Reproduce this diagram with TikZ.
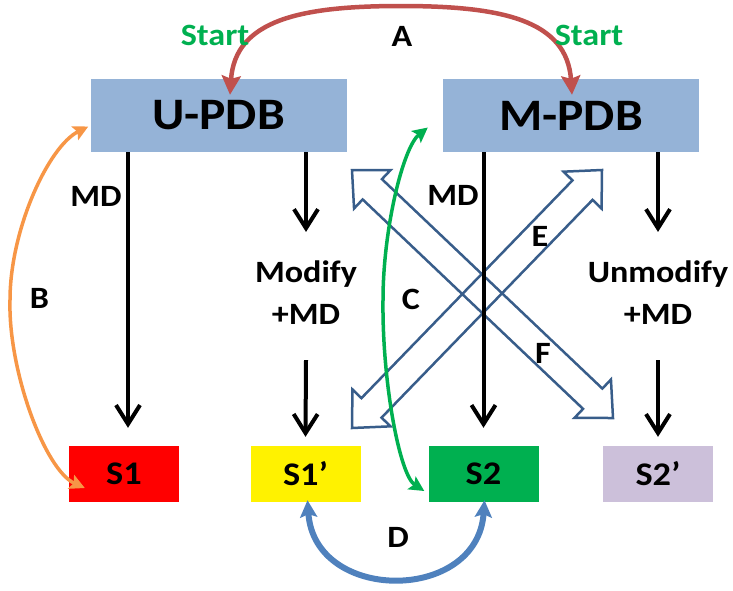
\documentclass[tikz,border=0pt]{standalone}
\usepackage{fontspec}
\setmainfont{Carlito}[FakeStretch=1.1]
\usetikzlibrary{arrows.meta,calc}

\definecolor{pdbblue}{HTML}{95B3D7}
\definecolor{redarc}{HTML}{C0504D}
\definecolor{orangearc}{HTML}{F79646}
\definecolor{greenarc}{HTML}{00B050}
\definecolor{bluearc}{HTML}{4F81BD}
\definecolor{hollowblue}{HTML}{385D8A}
\definecolor{lilac}{HTML}{CCC0DA}

\tikzset{
  pdb/.style={fill=pdbblue, minimum width=256pt, minimum height=73pt, inner sep=0pt,
    font=\bfseries\fontsize{45}{48}\selectfont},
  sbox/.style={minimum width=110pt, minimum height=56pt, inner sep=0pt,
    font=\bfseries\fontsize{33}{36}\selectfont},
  lbl/.style={inner sep=0pt, font=\bfseries\fontsize{31}{34}\selectfont},
  step lbl/.style={inner sep=0pt, align=center, font=\bfseries\fontsize{31}{42}\selectfont},
  flow/.style={line width=4pt, -{Straight Barb[length=19pt,width=24pt]}},
  hollow/.style={draw=hollowblue, line width=2.5pt},
  twoway/.style={arrows={Stealth[length=#1,width=#1,inset=3pt]-Stealth[length=#1,width=#1,inset=3pt]}},
}

% hollow double arrow between two tips
\def\headlen{28pt}
\def\headw{26.5pt}
\def\shaftw{14pt}
\newcommand\dblarrow[2]{%
  \draw[hollow] (#1)
    -- ($(#1)!\headlen!(#2)!\headw!90:(#2)$)
    -- ($(#1)!\headlen!(#2)!\shaftw!90:(#2)$)
    -- ($(#2)!\headlen!(#1)!\shaftw!-90:(#1)$)
    -- ($(#2)!\headlen!(#1)!\headw!-90:(#1)$)
    -- (#2)
    -- ($(#2)!\headlen!(#1)!\headw!90:(#1)$)
    -- ($(#2)!\headlen!(#1)!\shaftw!90:(#1)$)
    -- ($(#1)!\headlen!(#2)!\shaftw!-90:(#2)$)
    -- ($(#1)!\headlen!(#2)!\headw!-90:(#2)$)
    -- cycle;}

\begin{document}
\begin{tikzpicture}[x=1pt, y=-1pt]
    \useasboundingbox (0,0) rectangle (733,590);

    % Boxes
    \node[pdb] (upd) at (218.5,115.5) {U-PDB};
    \node[pdb] (mpd) at (571,115.5) {M-PDB};
    \node[sbox, fill=red] (s1) at (124,474) {S1};
    \node[sbox, fill=yellow] (s1p) at (305.5,474) {S1’};
    \node[sbox, fill=greenarc] (s2) at (483.5,474) {S2};
    \node[sbox, fill=lilac] (s2p) at (658,474) {S2’};

    % Modify steps
    \node[step lbl] (mod) at (306,293) {Modify\\+MD};
    \node[step lbl] (umod) at (658,293) {Unmodify\\+MD};

    % Crossing arrows E and F
    \coordinate (e1) at (352,428);
    \coordinate (e2) at (602,170);
    \coordinate (f1) at (352,170);
    \coordinate (f2) at (613,418);
    \dblarrow{e1}{e2}
    \dblarrow{f1}{f2}

    % MD runs
    \draw[flow] ([xshift=4pt]s1.north |- upd.south) -- ([xshift=4pt,yshift=18pt]s1.north);
    \draw[flow] (mod.north |- upd.south) -- ([yshift=29pt]mod.north);
    \draw[flow] ([yshift=-35pt]mod.south) -- ([yshift=9pt]s1p.north);
    \draw[flow] (s2.north |- mpd.south) -- ([yshift=18pt]s2.north);
    \draw[flow] (umod.north |- mpd.south) -- ([yshift=29pt]umod.north);
    \draw[flow] ([yshift=-35pt]umod.south) -- ([yshift=9pt]s2p.north);

    % Comparisons
    \coordinate (atop) at (401,6);
    \coordinate (bleft) at (10,300);
    \coordinate (cleft) at (383,300);
    \draw[redarc, line width=4.5pt, twoway=19pt]
      ($(upd.north)+(11.5,16)$) .. controls +(5,-75) and +(-100,0) .. (atop)
      .. controls +(100,0) and +(-5,-75) .. ($(mpd.north)+(1,16)$);
    \draw[orangearc, line width=3.5pt, twoway=15pt]
      ($(s1.west)+(16,14)$) .. controls +(-40,-18) and +(-2,70) .. (bleft)
      .. controls +(0,-70) and +(-40,20) .. ($(upd.west)+(-2,11)$);
    \draw[greenarc, line width=3.5pt, twoway=15pt]
      ($(s2.west)+(-4,17)$) .. controls +(-25,-16) and +(-1,80) .. (cleft)
      .. controls +(0,-70) and +(-25,20) .. ($(mpd.west)+(-15,12)$);
    \draw[bluearc, line width=6pt, twoway=17pt]
      ($(s1p.south)+(2,-2)$) .. controls +(7,103) and +(-7,103) .. ($(s2.south)+(1,-2)$);

    % Labels
    \node[lbl, text=greenarc] (st1) at (215,35) {Start};
    \node[lbl, text=greenarc] (st2) at (589,35) {Start};
    \node[lbl] (la) at (402,36) {A};
    \node[lbl] (lb) at (39.5,298) {B};
    \node[lbl] (lc) at (411,299) {C};
    \node[lbl] (ld) at (398,537) {D};
    \node[lbl] (le) at (540,236) {E};
    \node[lbl] (lf) at (543,353) {F};
    \node[lbl] (md1) at (96,196) {MD};
    \node[lbl] (md2) at (453,195) {MD};
\end{tikzpicture}
\end{document}
